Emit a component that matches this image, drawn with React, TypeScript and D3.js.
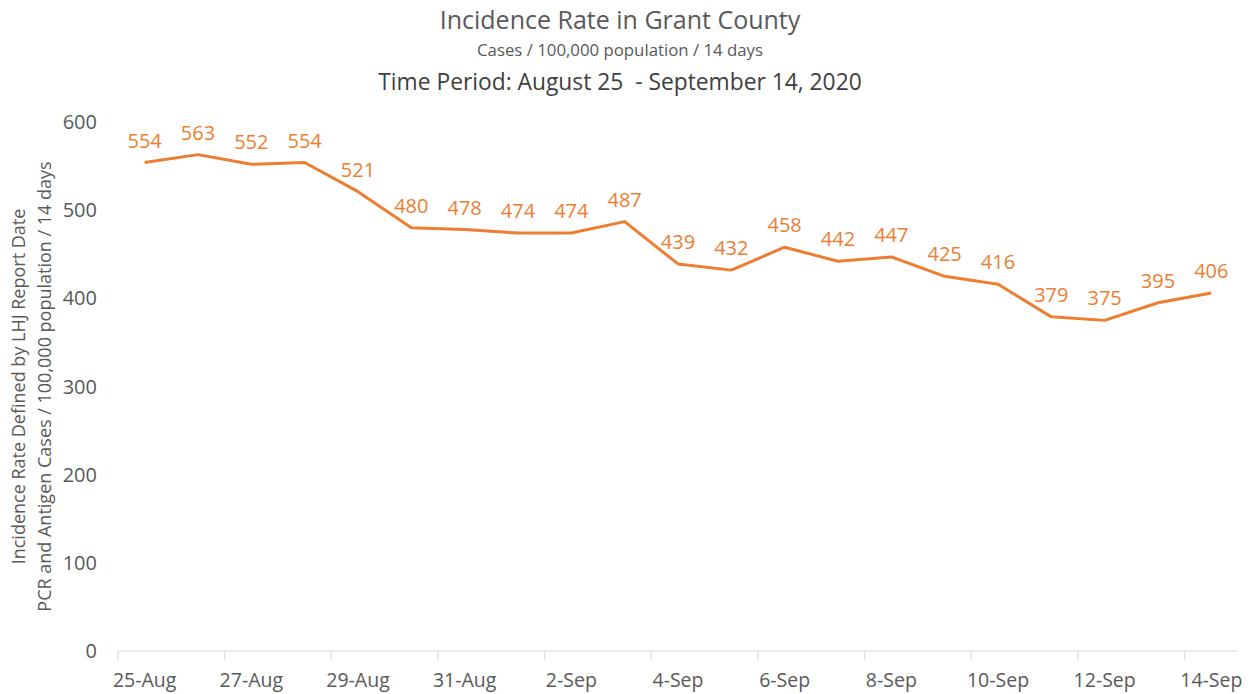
import React, { useEffect, useRef } from 'react';
import * as d3 from 'd3';

const dates = [
  '25-Aug', '26-Aug', '27-Aug', '28-Aug', '29-Aug', '30-Aug', '31-Aug',
  '1-Sep', '2-Sep', '3-Sep', '4-Sep', '5-Sep', '6-Sep', '7-Sep',
  '8-Sep', '9-Sep', '10-Sep', '11-Sep', '12-Sep', '13-Sep', '14-Sep'
];
const rates = [
  554, 563, 552, 554, 521, 480, 478, 474, 474, 487, 439,
  432, 458, 442, 447, 425, 416, 379, 375, 395, 406
];
const yTicks = [0, 100, 200, 300, 400, 500, 600];

const title = 'Incidence Rate in Grant County';
const subtitle = 'Cases / 100,000 population / 14 days';
const period = 'Time Period: August 25  - September 14, 2020';
const yTitle1 = 'Incidence Rate Defined by LHJ Report Date';
const yTitle2 = 'PCR and Antigen Cases / 100,000 population / 14 days';

const App: React.FC = () => {
  const svgRef = useRef<SVGSVGElement>(null);

  useEffect(() => {
    if (!svgRef.current) return;

    const width = 1254;
    const height = 694;
    const left = 118, right = 1238, top = 122, bottom = 651;
    const orange = '#ED7D31';
    const gray = '#595959';
    const font = "'Open Sans', sans-serif";

    d3.select(svgRef.current).selectAll('*').remove();
    const svg = d3.select(svgRef.current)
      .attr('width', width)
      .attr('height', height)
      .style('font-family', font);

    const x = d3.scaleBand<string>()
      .domain(dates)
      .range([left, right]);

    const y = d3.scaleLinear()
      .domain([0, 600])
      .range([bottom, top]);

    // Titles
    svg.append('text')
      .attr('x', 620).attr('y', 29)
      .attr('text-anchor', 'middle')
      .attr('fill', gray)
      .style('font-size', '25px')
      .text(title);
    svg.append('text')
      .attr('x', 620).attr('y', 56)
      .attr('text-anchor', 'middle')
      .attr('fill', gray)
      .style('font-size', '16.8px')
      .text(subtitle);
    svg.append('text')
      .attr('x', 620).attr('y', 90)
      .attr('text-anchor', 'middle')
      .attr('fill', '#404040')
      .style('font-size', '22.8px')
      .style('white-space', 'pre')
      .text(period);

    // Y axis title (two lines)
    const midY = (top + bottom) / 2;
    svg.append('text')
      .attr('transform', `translate(25,${midY}) rotate(-90)`)
      .attr('text-anchor', 'middle')
      .attr('fill', gray)
      .style('font-size', '18px')
      .text(yTitle1);
    svg.append('text')
      .attr('transform', `translate(51,${midY}) rotate(-90)`)
      .attr('text-anchor', 'middle')
      .attr('fill', gray)
      .style('font-size', '18px')
      .text(yTitle2);

    // Y tick labels
    svg.append('g')
      .selectAll('text')
      .data(yTicks)
      .enter()
      .append('text')
      .attr('x', 97)
      .attr('y', d => y(d))
      .attr('dy', '0.35em')
      .attr('text-anchor', 'end')
      .attr('fill', gray)
      .style('font-size', '20px')
      .text(d => d);

    // X axis line and ticks at every 2nd category boundary
    svg.append('line')
      .attr('x1', left).attr('x2', right)
      .attr('y1', bottom).attr('y2', bottom)
      .attr('stroke', '#D9D9D9')
      .attr('stroke-width', 1);

    const labelled = dates.filter((_, i) => i % 2 === 0);
    svg.append('g')
      .selectAll('line')
      .data(labelled)
      .enter()
      .append('line')
      .attr('x1', d => x(d) as number)
      .attr('x2', d => x(d) as number)
      .attr('y1', bottom)
      .attr('y2', bottom + 9)
      .attr('stroke', '#D9D9D9');

    svg.append('g')
      .selectAll('text')
      .data(labelled)
      .enter()
      .append('text')
      .attr('x', d => (x(d) as number) + x.bandwidth() / 2)
      .attr('y', 687)
      .attr('text-anchor', 'middle')
      .attr('fill', gray)
      .style('font-size', '19.5px')
      .text(d => d);

    // Line
    const line = d3.line<number>()
      .x((_, i) => (x(dates[i]) as number) + x.bandwidth() / 2)
      .y(d => y(d));

    svg.append('path')
      .datum(rates)
      .attr('d', line)
      .attr('fill', 'none')
      .attr('stroke', orange)
      .attr('stroke-width', 3)
      .attr('stroke-linejoin', 'round');

    // Data labels
    svg.append('g')
      .selectAll('text')
      .data(rates)
      .enter()
      .append('text')
      .attr('x', (_, i) => (x(dates[i]) as number) + x.bandwidth() / 2)
      .attr('y', d => y(d) - 15)
      .attr('text-anchor', 'middle')
      .attr('fill', orange)
      .style('font-size', '20px')
      .text(d => d);
  }, []);

  return <svg ref={svgRef} style={{ position: 'absolute', left: 0, top: 0 }} />;
};

export default App;
